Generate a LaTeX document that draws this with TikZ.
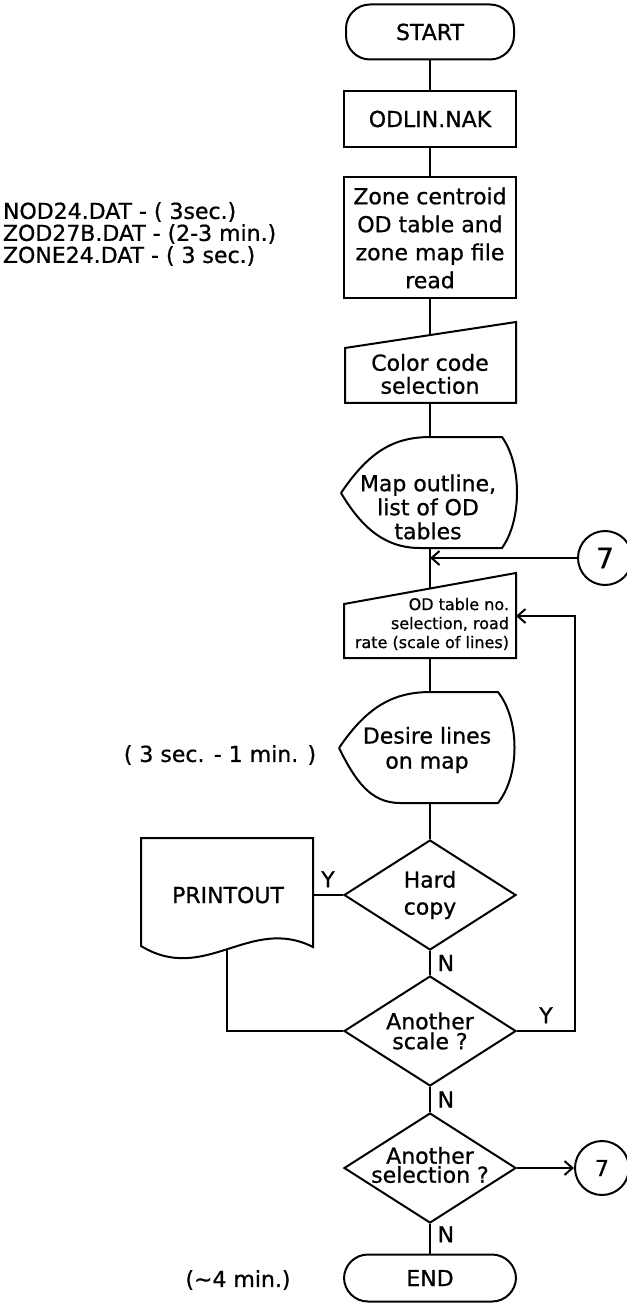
\documentclass[tikz,border=0pt]{standalone}
\usepackage{fontspec}
\setmainfont{DejaVu Sans}[FakeBold=0.8]
\usetikzlibrary{shapes.geometric,arrows.meta}

\begin{document}
\begin{tikzpicture}[x=0.5pt,y=-0.5pt,line width=1pt,font=\fontsize{11}{13}\selectfont,
  termbox/.style={draw,rounded corners=12pt,minimum width=84pt,minimum height=27.5pt,inner sep=0pt},
  procbox/.style={draw,rectangle,minimum width=86pt,inner sep=0pt},
  decbox/.style={draw,diamond,aspect=1.55,inner sep=0pt,minimum width=86pt,minimum height=55pt},
  conn/.style={draw,circle,minimum size=27pt,inner sep=0pt},
  txt/.style={align=center,inner sep=0pt},
  arr/.style={-{Straight Barb[length=4pt,width=7pt]}}]
\useasboundingbox (0,0) rectangle (626,1304);

% start and file reading
\node[termbox] (start) at (430,32) {START};
\node[procbox,minimum height=28pt] (odlin) at (430,119) {ODLIN.NAK};
\node[procbox,minimum height=60.5pt,font=\fontsize{11}{14}\selectfont,align=center] (zone) at (430,238) {Zone centroid\\OD table and\\zone map file\\read};

% manual input: colour code
\draw (345,348) -- (516,322) -- (516,403) -- (345,403) -- cycle;
\node[txt,font=\fontsize{11}{11.5}\selectfont] (color) at (430,374) {Color code\\selection};
\coordinate (colortop) at (430,335);
\coordinate (colorbot) at (430,403);

% display: map outline
\draw (341,493) .. controls (370,450) and (395,437) .. (431,437) -- (502,437)
  .. controls (522,465) and (522,520) .. (502,548) -- (420,548)
  .. controls (385,548) and (362,528) .. (341,493);
\coordinate (maptop) at (430,437);
\coordinate (mapbot) at (430,548);
\node[txt,font=\fontsize{11}{12}\selectfont] (map) at (428,507) {Map outline,\\list of OD\\tables};

% connector 7 back in
\coordinate (join) at (430,558);
\node[conn,font=\fontsize{14}{14}\selectfont] (c7a) at (605,558) {7};

% manual input: OD table selection
\draw (344,604) -- (516,573) -- (516,658) -- (344,658) -- cycle;
\node[txt,align=right,anchor=east,font=\fontsize{8}{9.5}\selectfont] (odsel) at (510,624) {OD table no.\\selection, road\\rate (scale of lines)};
\coordinate (odtop) at (430,588);
\coordinate (odbot) at (430,658);
\coordinate (odin) at (516,616);
\coordinate (loopx) at (575,616);

% display: desire lines
\draw (339,748) .. controls (368,705) and (395,692) .. (431,692) -- (498,692)
  .. controls (520,720) and (520,775) .. (498,803) -- (400,803)
  .. controls (370,803) and (355,780) .. (339,748);
\coordinate (destop) at (430,692);
\coordinate (desbot) at (430,803);
\node[txt,font=\fontsize{11}{12.5}\selectfont] (desire) at (427,750) {Desire lines\\on map};

% decisions
\node[decbox] (hard) at (430,895) {};
\node[txt,font=\fontsize{11}{13.5}\selectfont] (hardtxt) at (hard) {Hard\\copy};
\node[decbox] (scale) at (430,1031) {};
\node[txt,font=\fontsize{11}{10}\selectfont] (scaletxt) at (scale) {Another\\scale ?};
\node[decbox] (select) at (430,1168) {};
\node[txt,font=\fontsize{11}{8.5}\selectfont] (selecttxt) at (430,1165) {Another\\selection ?};
\node[termbox,minimum width=86pt,minimum height=23.5pt] (end) at (430,1278) {END};

% printout document
\draw (141,838) -- (313,838) -- (313,947) .. controls (250,915) and (205,985) .. (141,946) -- cycle;
\node (prt) at (228,895) {PRINTOUT};
\coordinate (prtin) at (313,895);
\coordinate (prtbot) at (227,949);

% connectors
\draw (start) -- (odlin);
\draw (odlin) -- (zone);
\draw (zone) -- (colortop);
\draw (colorbot) -- (maptop);
\draw (mapbot) -- (odtop);
\draw[arr] (c7a) -- (join);
\draw (odbot) -- (destop);
\draw (desbot) -- (hard);
\draw (hard.west) -- node[above] {Y} (prtin);
\draw (hard) -- node[right] {N} (scale);
\draw[arr] (scale.east) -| node[pos=0.25,above] {Y} (loopx) -- (odin);
\draw (prtbot) |- (scale.west);
\draw (scale) -- node[right] {N} (select);
\node[conn] (c7b) at (602,1168) {7};
\draw[arr] (select.east) -- (c7b);
\draw (select) -- node[pos=0.35,right] {N} (end);

% timings
\node[anchor=west,align=left,inner sep=0pt,font=\fontsize{11}{11}\selectfont] (files) at (2,234) {NOD24.DAT - ( 3sec.)\\ZOD27B.DAT - (2-3 min.)\\ZONE24.DAT - ( 3 sec.)};
\node (tdesire) at (220,755) {( 3 sec. - 1 min. )};
\node (tend) at (238,1280) {(∼4 min.)};
\end{tikzpicture}
\end{document}
